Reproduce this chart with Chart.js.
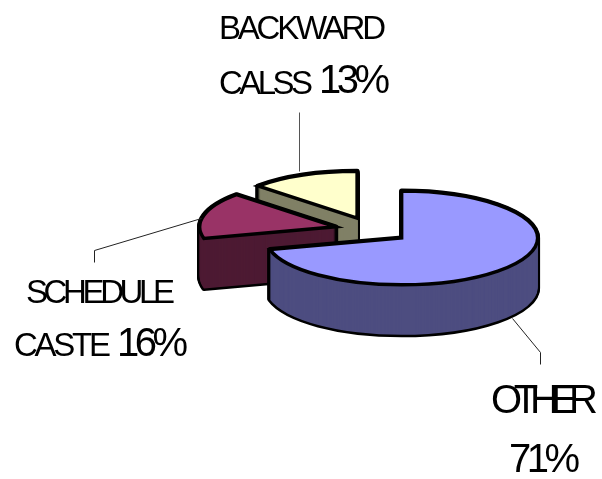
<!DOCTYPE html>
<html lang="en">
<head>
  <meta charset="UTF-8">
  <title>Caste share</title>
  <style>
    body { margin: 0; background: #fff; }
    canvas { display: block; }
  </style>
</head>
<body>
  <canvas id="myChart" width="602" height="479"></canvas>

  <script src="https://cdn.jsdelivr.net/npm/chart.js"></script>
  <script>
    var categories = ['OTHER', 'SCHEDULE CASTE', 'BACKWARD CALSS'];
    var values = [71, 16, 13];
    var topColors = ['#9999FF', '#993366', '#FFFFCC'];
    var sideColors = ['#4D4D80', '#4D1A33', '#808066'];

    var squash = 0.345;  // flattening of the pie
    var depth = 50;      // height of the 3d wall
    var fontName = '"Liberation Sans", Arial, sans-serif';

    function slicePath(ctx, el, drop) {
      var mid = (el.startAngle + el.endAngle) / 2;
      var off = el.options.offset;
      ctx.save();
      ctx.translate(el.x + Math.cos(mid) * off, el.y + Math.sin(mid) * off * squash + drop);
      ctx.scale(1, squash);
      ctx.beginPath();
      ctx.moveTo(0, 0);
      ctx.arc(0, 0, el.outerRadius, el.startAngle, el.endAngle);
      ctx.closePath();
      ctx.restore(); // restore first so the stroke is not flattened too
    }

    // text squeezed to the width it has in the picture
    function fitText(ctx, text, x, base, size, width) {
      ctx.font = size + 'px ' + fontName;
      ctx.letterSpacing = '0px';
      var natural = ctx.measureText(text).width;
      ctx.letterSpacing = ((width - natural) / (text.length - 1)) + 'px';
      ctx.fillText(text, x, base);
      ctx.letterSpacing = '0px';
    }

    function leader(ctx, pts) {
      ctx.beginPath();
      pts.forEach(function (p, i) {
        if (i === 0) ctx.moveTo(p[0] + 0.5, p[1] + 0.5);
        else ctx.lineTo(p[0] + 0.5, p[1] + 0.5);
      });
      ctx.stroke();
    }

    var pie3d = {
      id: 'pie3d',
      beforeDatasetsDraw: function (chart) {
        var ctx = chart.ctx;
        var arcs = chart.getDatasetMeta(0).data;
        ctx.save();
        ctx.lineJoin = 'round';
        // back slices first, the big one sits in front
        for (var i = arcs.length - 1; i >= 0; i--) {
          var el = arcs[i];
          var d;
          ctx.strokeStyle = '#000';
          ctx.lineWidth = 5;
          for (d = depth; d >= 0; d--) {
            slicePath(ctx, el, d);
            ctx.stroke();
          }
          ctx.fillStyle = sideColors[i];
          for (d = depth; d >= 0; d--) {
            slicePath(ctx, el, d);
            ctx.fill();
          }
          slicePath(ctx, el, 0);
          ctx.fillStyle = topColors[i];
          ctx.fill();
          ctx.lineJoin = 'miter';
          ctx.lineWidth = 3.5;
          ctx.stroke();
          ctx.lineJoin = 'round';
        }
        ctx.restore();
        return false; // the default flat arcs are not wanted
      },
      afterDraw: function (chart) {
        var ctx = chart.ctx;
        ctx.save();
        ctx.lineWidth = 1;
        ctx.strokeStyle = '#555';
        leader(ctx, [[299, 112], [299, 171]]);
        ctx.strokeStyle = '#222';
        leader(ctx, [[94, 262], [94, 250], [201, 218]]);
        leader(ctx, [[512, 318], [540, 352], [540, 364]]);

        ctx.fillStyle = '#000';
        ctx.textBaseline = 'alphabetic';
        fitText(ctx, 'BACKWARD', 219, 39, 33, 167);
        fitText(ctx, 'CALSS', 219, 94, 33, 94);
        fitText(ctx, values[2] + '%', 319, 93, 40, 71);
        fitText(ctx, 'SCHEDULE', 26, 303, 33, 149);
        fitText(ctx, 'CASTE', 14, 356, 33, 97);
        fitText(ctx, values[1] + '%', 117, 356, 40, 71);
        fitText(ctx, categories[0], 491, 413, 40, 107);
        fitText(ctx, values[0] + '%', 509, 472, 40, 71);
        ctx.restore();
      }
    };

    var myChart = new Chart(document.getElementById('myChart').getContext('2d'), {
      type: 'pie',
      data: {
        labels: categories,
        datasets: [{
          data: values,
          backgroundColor: topColors,
          offset: 37.5,
          borderWidth: 0
        }]
      },
      options: {
        responsive: false,
        animation: false,
        radius: 136,
        layout: { padding: { left: 142, bottom: 19 } },
        plugins: { legend: { display: false }, tooltip: { enabled: false } }
      },
      plugins: [pie3d]
    });
  </script>
</body>
</html>
